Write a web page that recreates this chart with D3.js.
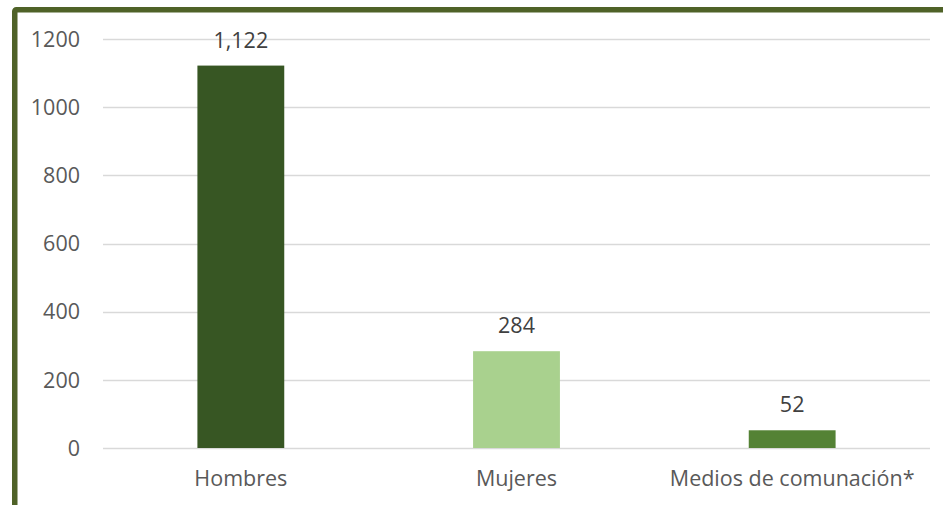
<!DOCTYPE html>
<html>
<head>
<meta charset="utf-8">
<script src="https://cdn.jsdelivr.net/npm/d3@7"></script>
<style>
  html, body { margin: 0; padding: 0; background: #fff; }
  svg { display: block; }
</style>
</head>
<body>
<div id="chart"></div>
<script>
// data
const categories = ["Hombres", "Mujeres", "Medios de comunación*"];
const values = [1122, 284, 52];
const barColors = ["#375623", "#a9d18e", "#548235"];
const yTicks = [0, 200, 400, 600, 800, 1000, 1200];

const width = 943, height = 505;
const margin = { left: 103, right: 13, top: 39, bottom: 57 };
const font = "'Open Sans', sans-serif";
const fs = 21.5;

const svg = d3.select("#chart").append("svg")
  .attr("width", width)
  .attr("height", height)
  .attr("font-family", font);

// frame (only top and left edges show)
svg.append("rect")
  .attr("x", 14.75).attr("y", 9.75)
  .attr("width", 960).attr("height", 520)
  .attr("rx", 1.5)
  .attr("fill", "none")
  .attr("stroke", "#4f6228")
  .attr("stroke-width", 5.5);

const x = d3.scaleBand()
  .domain(categories)
  .range([margin.left, width - margin.right])
  .paddingInner(0.685)
  .paddingOuter(0.3425);

const y = d3.scaleLinear()
  .domain([0, 1200])
  .range([height - margin.bottom, margin.top]);

// gridlines
svg.append("g")
  .selectAll("line")
  .data(yTicks)
  .join("line")
  .attr("x1", margin.left)
  .attr("x2", width - margin.right)
  .attr("y1", d => Math.round(y(d)) + 0.5)
  .attr("y2", d => Math.round(y(d)) + 0.5)
  .attr("stroke", "#d9d9d9")
  .attr("stroke-width", 1.5);

// y labels
svg.append("g")
  .attr("text-anchor", "end")
  .selectAll("text")
  .data(yTicks)
  .join("text")
  .attr("x", 80)
  .attr("y", d => y(d))
  .attr("dy", "0.36em")
  .attr("font-size", fs)
  .attr("fill", "#595959")
  .text(d => d);

// bars
svg.append("g")
  .selectAll("rect")
  .data(values)
  .join("rect")
  .attr("x", (d, i) => x(categories[i]))
  .attr("width", x.bandwidth())
  .attr("y", d => y(d))
  .attr("height", d => y(0) - y(d))
  .attr("fill", (d, i) => barColors[i]);

// value labels
svg.append("g")
  .attr("text-anchor", "middle")
  .selectAll("text")
  .data(values)
  .join("text")
  .attr("x", (d, i) => x(categories[i]) + x.bandwidth() / 2)
  .attr("y", d => y(d) - 18)
  .attr("font-size", fs)
  .attr("fill", "#404040")
  .text(d => d3.format(",")(d));

// category labels
svg.append("g")
  .attr("text-anchor", "middle")
  .selectAll("text")
  .data(categories)
  .join("text")
  .attr("x", d => x(d) + x.bandwidth() / 2)
  .attr("y", 486)
  .attr("font-size", fs)
  .attr("fill", "#595959")
  .text(d => d);
</script>
</body>
</html>
